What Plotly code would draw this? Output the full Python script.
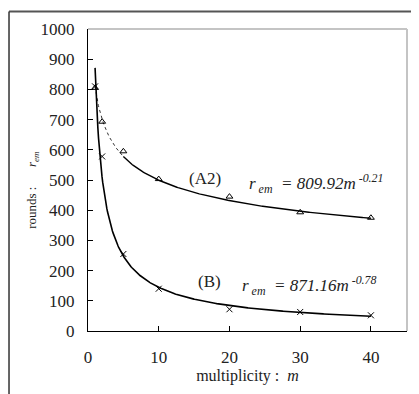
import numpy as np
import plotly.graph_objects as go

m_vals = [1, 2, 5, 10, 20, 30, 40]
a2_vals = [805, 693, 595, 503, 445, 393, 375]
b_vals = [810, 578, 255, 140, 72, 63, 52]

a2_coef, a2_exp = 809.92, -0.21
b_coef, b_exp = 871.16, -0.78

x_ticks = [0, 10, 20, 30, 40]
y_ticks = list(range(0, 1001, 100))

FONT = "'Liberation Serif', 'Times New Roman', serif"

fig = go.Figure()

mf1 = np.linspace(1, 5, 60)
mf2 = np.linspace(5, 40, 200)
mfb = np.linspace(1, 40, 400)

fig.add_trace(go.Scatter(x=mf1, y=a2_coef * mf1 ** a2_exp, mode="lines",
                         line=dict(color="#333", width=1, dash="dot"), showlegend=False))
fig.add_trace(go.Scatter(x=mf2, y=a2_coef * mf2 ** a2_exp, mode="lines",
                         line=dict(color="black", width=1.4), showlegend=False))
fig.add_trace(go.Scatter(x=mfb, y=b_coef * mfb ** b_exp, mode="lines",
                         line=dict(color="black", width=1.6), showlegend=False))
fig.add_trace(go.Scatter(x=m_vals, y=a2_vals, mode="markers",
                         marker=dict(symbol="triangle-up-open", size=6, color="black",
                                     line=dict(width=1, color="black")), showlegend=False))
fig.add_trace(go.Scatter(x=m_vals, y=b_vals, mode="markers",
                         marker=dict(symbol="x-thin-open", size=6, color="black",
                                     line=dict(width=1, color="black")), showlegend=False))

fig.update_xaxes(range=[0, 45.1], tickvals=x_ticks, ticks="inside", ticklen=5,
                 tickcolor="black", showline=True, linecolor="black", linewidth=1.2,
                 showgrid=False, zeroline=False, mirror=False, ticklabelstandoff=10,
                 tickfont=dict(family=FONT, size=17, color="#222"),
                 title=dict(text="multiplicity :  <i>m</i>", standoff=4,
                            font=dict(family=FONT, size=16, color="#222")))
fig.update_yaxes(range=[0, 1000], tickvals=y_ticks, ticks="inside", ticklen=5,
                 tickcolor="black", showline=True, linecolor="black", linewidth=1.2,
                 showgrid=False, zeroline=False, ticklabelstandoff=9,
                 tickfont=dict(family=FONT, size=17, color="#222"))

shapes = [
    # gray top/right plot border
    dict(type="line", xref="paper", yref="paper", x0=0, x1=1, y0=1, y1=1,
         line=dict(color="#c4c4c4", width=2)),
    dict(type="line", xref="paper", yref="paper", x0=1, x1=1, y0=0, y1=1,
         line=dict(color="#c4c4c4", width=2)),
    # outer frame
    dict(type="line", xref="paper", yref="paper", x0=-0.2476, x1=1.1, y0=1.058, y1=1.058,
         line=dict(color="#555", width=2)),
    dict(type="line", xref="paper", yref="paper", x0=-0.2476, x1=-0.2476, y0=-0.25, y1=1.058,
         line=dict(color="#333", width=1.5)),
]

annotations = [
    dict(x=16.5, y=505, xref="x", yref="y", text="(A2)", showarrow=False,
         font=dict(family=FONT, size=17, color="#222")),
    dict(x=22.5, y=490, xref="x", yref="y", xanchor="left",
         text="<i>r</i><sub><i> em</i></sub><i>  = 809.92m</i><sup><i> -0.21</i></sup>",
         showarrow=False, font=dict(family=FONT, size=17, color="#222")),
    dict(x=17.2, y=165, xref="x", yref="y", text="(B)", showarrow=False,
         font=dict(family=FONT, size=17, color="#222")),
    dict(x=21.5, y=152, xref="x", yref="y", xanchor="left",
         text="<i>r</i><sub><i> em</i></sub><i>  = 871.16m</i><sup><i> -0.78</i></sup>",
         showarrow=False, font=dict(family=FONT, size=17, color="#222")),
    dict(x=-0.205, y=0.468, xref="paper", yref="paper", textangle=-90,
         text="rounds :      <i>r</i><sub><i>em</i></sub>", showarrow=False,
         font=dict(family=FONT, size=13, color="#222")),
]

fig.update_layout(width=411, height=386, margin=dict(l=80, r=12, t=19, b=58),
                  paper_bgcolor="white", plot_bgcolor="white",
                  shapes=shapes, annotations=annotations)

fig.write_html("out.html")
